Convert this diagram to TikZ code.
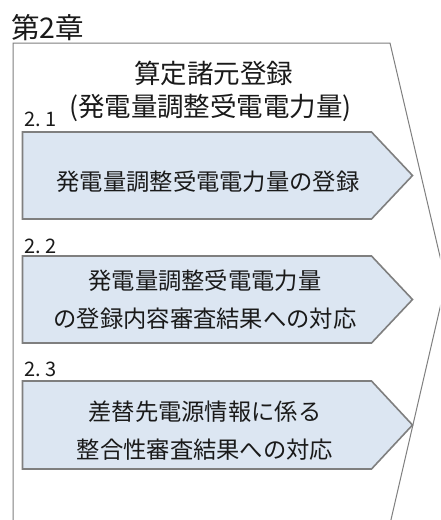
\documentclass[tikz,border=0pt]{standalone}
\usepackage{fontspec}
\newfontfamily\jp{Noto Sans CJK JP}
\definecolor{boxfill}{HTML}{DCE6F2}
\definecolor{boxline}{HTML}{7F7F7F}
\definecolor{txt}{HTML}{1A1A1A}
\tikzset{
  outerline/.style={draw=boxline, line width=1pt},
  stepbox/.style={draw=boxline, fill=boxfill, line width=1.6pt, line join=miter},
  boxtext/.style={inner sep=0pt, align=center, text=txt, font=\jp\fontsize{23.3}{38}\selectfont},
  numlabel/.style={inner sep=0pt, anchor=west, text=txt, font=\jp\fontsize{20}{24}\selectfont},
  titletext/.style={inner sep=0pt, text=txt, font=\jp\fontsize{26.5}{32}\selectfont},
  chaptext/.style={inner sep=0pt, anchor=west, text=txt, font=\jp\fontsize{28.5}{32}\selectfont}
}
\begin{document}
\begin{tikzpicture}[x=1pt,y=-1pt]
\useasboundingbox (0,0) rectangle (440,520);
\clip (0,0) rectangle (440,520);
\fill[white] (0,0) rectangle (440,520);
% outer chapter shape
\draw[outerline] (13,43) -- (390,43) -- (446,282) -- (390,524) -- (13,524) -- cycle;
\node[chaptext] (chap) at (11,27.5) {第2章};
\node[titletext] (title1) at (213.5,73) {算定諸元登録};
\node[titletext] (title2) at (210.5,107.5) {(発電量調整受電電力量)};
% step boxes
\draw[stepbox] (22.5,132) -- (371.5,132) -- (412.5,175.5) -- (371.5,219) -- (22.5,219) -- cycle;
\draw[stepbox] (22.5,256) -- (371.5,256) -- (412.5,299.5) -- (371.5,343) -- (22.5,343) -- cycle;
\draw[stepbox] (22.5,381) -- (371.5,381) -- (412.5,425) -- (371.5,469) -- (22.5,469) -- cycle;
\node[numlabel] (n1) at (24,119) {2.\kern5pt1};
\node[numlabel] (n2) at (24,246) {2.\kern5pt2};
\node[numlabel] (n3) at (24,369) {2.\kern5pt3};
\node[boxtext] (b1) at (208,182) {発電量調整受電電力量の登録};
\node[boxtext] (b2) at (205,300) {発電量調整受電電力量\\の登録内容審査結果への対応};
\node[boxtext] (b3) at (205,431) {差替先電源情報に係る\\整合性審査結果への対応};
\end{tikzpicture}
\end{document}
